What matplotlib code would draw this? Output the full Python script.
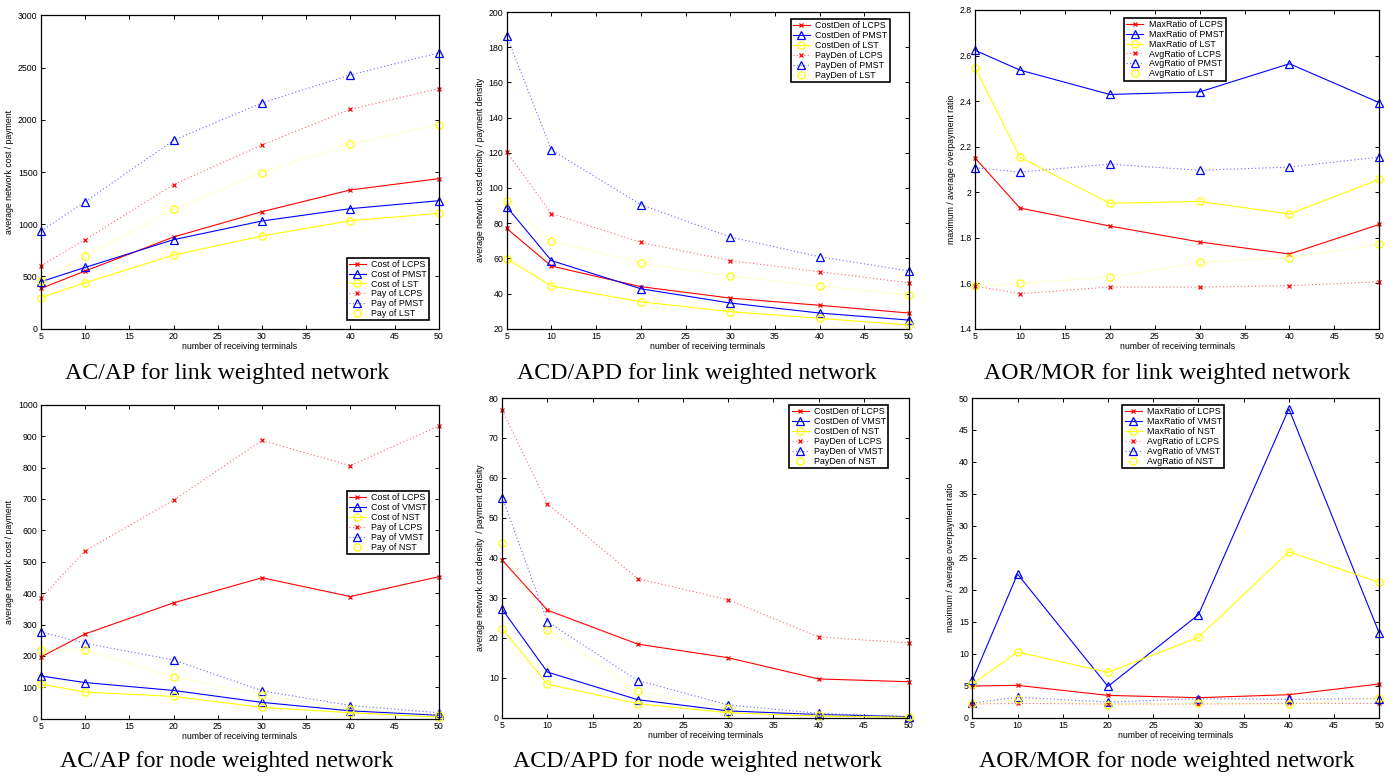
import matplotlib
matplotlib.use("Agg")
import matplotlib.pyplot as plt
from matplotlib.colors import to_rgba
from matplotlib.ticker import FormatStrFormatter, MultipleLocator

# ---------------- data ----------------
terminals = [5, 10, 20, 30, 40, 50]

# link weighted network: AC/AP
link_cost_lcps = [386, 552, 878, 1120, 1328, 1436]
link_cost_pmst = [450, 587, 852, 1031, 1149, 1225]
link_cost_lst = [297, 440, 705, 887, 1034, 1104]
link_pay_lcps = [603, 852, 1379, 1759, 2100, 2298]
link_pay_pmst = [935, 1216, 1803, 2161, 2429, 2640]
link_pay_lst = [460, 699, 1143, 1494, 1768, 1953]

# link weighted network: ACD/APD
link_costden_lcps = [77.0, 55.6, 43.9, 37.4, 33.3, 28.9]
link_costden_pmst = [89.3, 58.7, 42.7, 34.6, 28.9, 24.9]
link_costden_lst = [59.8, 44.3, 35.3, 29.7, 25.9, 22.1]
link_payden_lcps = [120.6, 85.4, 69.1, 58.7, 52.4, 46.1]
link_payden_pmst = [186.4, 121.6, 90.5, 72.1, 60.9, 52.8]
link_payden_lst = [92.8, 70.0, 57.3, 49.9, 44.3, 39.1]

# link weighted network: AOR/MOR
link_max_lcps = [2.150, 1.930, 1.851, 1.781, 1.728, 1.858]
link_max_pmst = [2.623, 2.536, 2.429, 2.440, 2.564, 2.393]
link_max_lst = [2.547, 2.153, 1.951, 1.959, 1.904, 2.056]
link_avg_lcps = [1.587, 1.554, 1.583, 1.583, 1.589, 1.606]
link_avg_pmst = [2.107, 2.088, 2.123, 2.096, 2.110, 2.154]
link_avg_lst = [1.586, 1.599, 1.626, 1.691, 1.712, 1.770]

# node weighted network: AC/AP
node_cost_lcps = [197, 270, 369, 449, 389, 452]
node_cost_vmst = [136, 115, 90, 52, 25, 11]
node_cost_nst = [110, 85, 71, 36, 19, 5]
node_pay_lcps = [384, 535, 696, 886, 806, 932]
node_pay_vmst = [276, 240, 187, 89, 42, 19]
node_pay_nst = [219, 219, 133, 76, 30, 12]

# node weighted network: ACD/APD
node_costden_lcps = [39.4, 26.9, 18.4, 15.0, 9.7, 9.0]
node_costden_vmst = [27.1, 11.4, 4.5, 1.7, 0.8, 0.25]
node_costden_nst = [22.2, 8.4, 3.5, 1.25, 0.4, 0.1]
node_payden_lcps = [76.9, 53.5, 34.8, 29.5, 20.2, 18.7]
node_payden_vmst = [55.1, 24.0, 9.3, 3.2, 1.1, 0.3]
node_payden_nst = [43.6, 21.9, 6.6, 2.5, 0.7, 0.2]

# node weighted network: AOR/MOR
node_max_lcps = [4.95, 5.06, 3.49, 3.13, 3.60, 5.27]
node_max_vmst = [5.84, 22.47, 4.90, 16.1, 48.3, 13.2]
node_max_nst = [5.27, 10.27, 7.09, 12.56, 25.96, 21.17]
node_avg_lcps = [2.14, 2.24, 2.14, 2.14, 2.24, 2.24]
node_avg_vmst = [2.3, 3.2, 2.45, 2.97, 2.87, 3.0]
node_avg_nst = [2.09, 2.87, 2.03, 2.24, 2.09, 3.08]

# ---------------- styling ----------------
W, H = 1397, 777
plt.rcParams['font.family'] = ['Liberation Sans', 'DejaVu Sans']
fig = plt.figure(figsize=(W / 100, H / 100), dpi=100)

RED, BLUE, YEL = '#ff0000', '#0000ff', '#ffff00'
DOT = (0, (1, 2.2))


def px_axes(l, t, r, b):
    return fig.add_axes([l / W, 1 - b / H, (r - l) / W, (b - t) / H])


def series(ax, y, color, kind, solid, label):
    ls = '-' if solid else DOT
    lc = color if solid else to_rgba(color, 0.6)
    kw = dict(color=lc, ls=ls, lw=0.8, mec=color, mew=0.9, label=label,
              clip_on=False)
    if kind == 'x':
        ax.plot(terminals, y, marker='x', ms=3.2, **kw)
    elif kind == '^':
        ax.plot(terminals, y, marker='^', ms=5.5, mfc='none', **kw)
    else:
        ax.plot(terminals, y, marker='o', ms=5.2, mfc='none', **kw)


def style(ax, ylim, ystep, ylabel, fmt='%g'):
    ax.set_xlim(5, 50)
    ax.set_ylim(*ylim)
    ax.set_xticks([5, 10, 15, 20, 25, 30, 35, 40, 45, 50])
    ax.yaxis.set_major_locator(MultipleLocator(ystep))
    ax.yaxis.set_major_formatter(FormatStrFormatter(fmt))
    ax.tick_params(direction='in', length=3, width=0.7, labelsize=6.3,
                   top=True, right=True, pad=2.5)
    for s in ax.spines.values():
        s.set_linewidth(0.9)
    ax.set_xlabel('number of receiving terminals', fontsize=6.3, labelpad=0.5)
    ax.set_ylabel(ylabel, fontsize=6.3, labelpad=2.5)


def legend(ax, x0, top):
    lg = ax.legend(loc='upper left', bbox_to_anchor=(x0, top), fontsize=6.4,
                   frameon=True, fancybox=False, edgecolor='black',
                   borderpad=0.25, labelspacing=0.1, handlelength=1.9,
                   handletextpad=0.6, borderaxespad=0, framealpha=1)
    lg.get_frame().set_linewidth(1.2)


def caption(xc, yc, text):
    fig.text(xc / W, 1 - yc / H, text, ha='center', va='center',
             fontsize=17.2, family=['Liberation Serif', 'DejaVu Serif'])


# ---- panel 1
ax = px_axes(41, 15.3, 438.7, 328.7)
series(ax, link_cost_lcps, RED, 'x', True, 'Cost of LCPS')
series(ax, link_cost_pmst, BLUE, '^', True, 'Cost of PMST')
series(ax, link_cost_lst, YEL, 'o', True, 'Cost of LST')
series(ax, link_pay_lcps, RED, 'x', False, 'Pay of LCPS')
series(ax, link_pay_pmst, BLUE, '^', False, 'Pay of PMST')
series(ax, link_pay_lst, YEL, 'o', False, 'Pay of LST')
style(ax, (0, 3000), 500, 'average network cost / payment')
legend(ax, 0.769, 0.227)
caption(226.7, 373.3, 'AC/AP for link weighted network')

# ---- panel 2
ax = px_axes(506.7, 12, 909, 328.7)
series(ax, link_costden_lcps, RED, 'x', True, 'CostDen of LCPS')
series(ax, link_costden_pmst, BLUE, '^', True, 'CostDen of PMST')
series(ax, link_costden_lst, YEL, 'o', True, 'CostDen of LST')
series(ax, link_payden_lcps, RED, 'x', False, 'PayDen of LCPS')
series(ax, link_payden_pmst, BLUE, '^', False, 'PayDen of PMST')
series(ax, link_payden_lst, YEL, 'o', False, 'PayDen of LST')
style(ax, (20, 200), 20, 'average network cost density / payment density')
legend(ax, 0.706, 0.978)
caption(697, 373.3, 'ACD/APD for link weighted network')

# ---- panel 3
ax = px_axes(975, 10, 1379.3, 328.7)
series(ax, link_max_lcps, RED, 'x', True, 'MaxRatio of LCPS')
series(ax, link_max_pmst, BLUE, '^', True, 'MaxRatio of PMST')
series(ax, link_max_lst, YEL, 'o', True, 'MaxRatio of LST')
series(ax, link_avg_lcps, RED, 'x', False, 'AvgRatio of LCPS')
series(ax, link_avg_pmst, BLUE, '^', False, 'AvgRatio of PMST')
series(ax, link_avg_lst, YEL, 'o', False, 'AvgRatio of LST')
style(ax, (1.4, 2.8), 0.2, 'maximum / average overpayment ratio')
legend(ax, 0.369, 0.976)
caption(1167, 373.3, 'AOR/MOR for link weighted network')

# ---- panel 4
ax = px_axes(41, 404.7, 438.7, 718.7)
series(ax, node_cost_lcps, RED, 'x', True, 'Cost of LCPS')
series(ax, node_cost_vmst, BLUE, '^', True, 'Cost of VMST')
series(ax, node_cost_nst, YEL, 'o', True, 'Cost of NST')
series(ax, node_pay_lcps, RED, 'x', False, 'Pay of LCPS')
series(ax, node_pay_vmst, BLUE, '^', False, 'Pay of VMST')
series(ax, node_pay_nst, YEL, 'o', False, 'Pay of NST')
style(ax, (0, 1000), 100, 'average network cost / payment')
legend(ax, 0.769, 0.725)
caption(226.7, 761.7, 'AC/AP for node weighted network')

# ---- panel 5
ax = px_axes(502.3, 398, 909, 717.7)
series(ax, node_costden_lcps, RED, 'x', True, 'CostDen of LCPS')
series(ax, node_costden_vmst, BLUE, '^', True, 'CostDen of VMST')
series(ax, node_costden_nst, YEL, 'o', True, 'CostDen of NST')
series(ax, node_payden_lcps, RED, 'x', False, 'PayDen of LCPS')
series(ax, node_payden_vmst, BLUE, '^', False, 'PayDen of VMST')
series(ax, node_payden_nst, YEL, 'o', False, 'PayDen of NST')
style(ax, (0, 80), 10, 'average network cost density  / payment density')
legend(ax, 0.706, 0.978)
caption(697, 761.7, 'ACD/APD for node weighted network')

# ---- panel 6
ax = px_axes(972.3, 398, 1379.3, 717.7)
series(ax, node_max_lcps, RED, 'x', True, 'MaxRatio of LCPS')
series(ax, node_max_vmst, BLUE, '^', True, 'MaxRatio of VMST')
series(ax, node_max_nst, YEL, 'o', True, 'MaxRatio of NST')
series(ax, node_avg_lcps, RED, 'x', False, 'AvgRatio of LCPS')
series(ax, node_avg_vmst, BLUE, '^', False, 'AvgRatio of VMST')
series(ax, node_avg_nst, YEL, 'o', False, 'AvgRatio of NST')
style(ax, (0, 50), 5, 'maximum / average overpayment ratio')
legend(ax, 0.369, 0.978)
caption(1166.7, 761.7, 'AOR/MOR for node weighted network')

fig.savefig('out.png', dpi=100)
